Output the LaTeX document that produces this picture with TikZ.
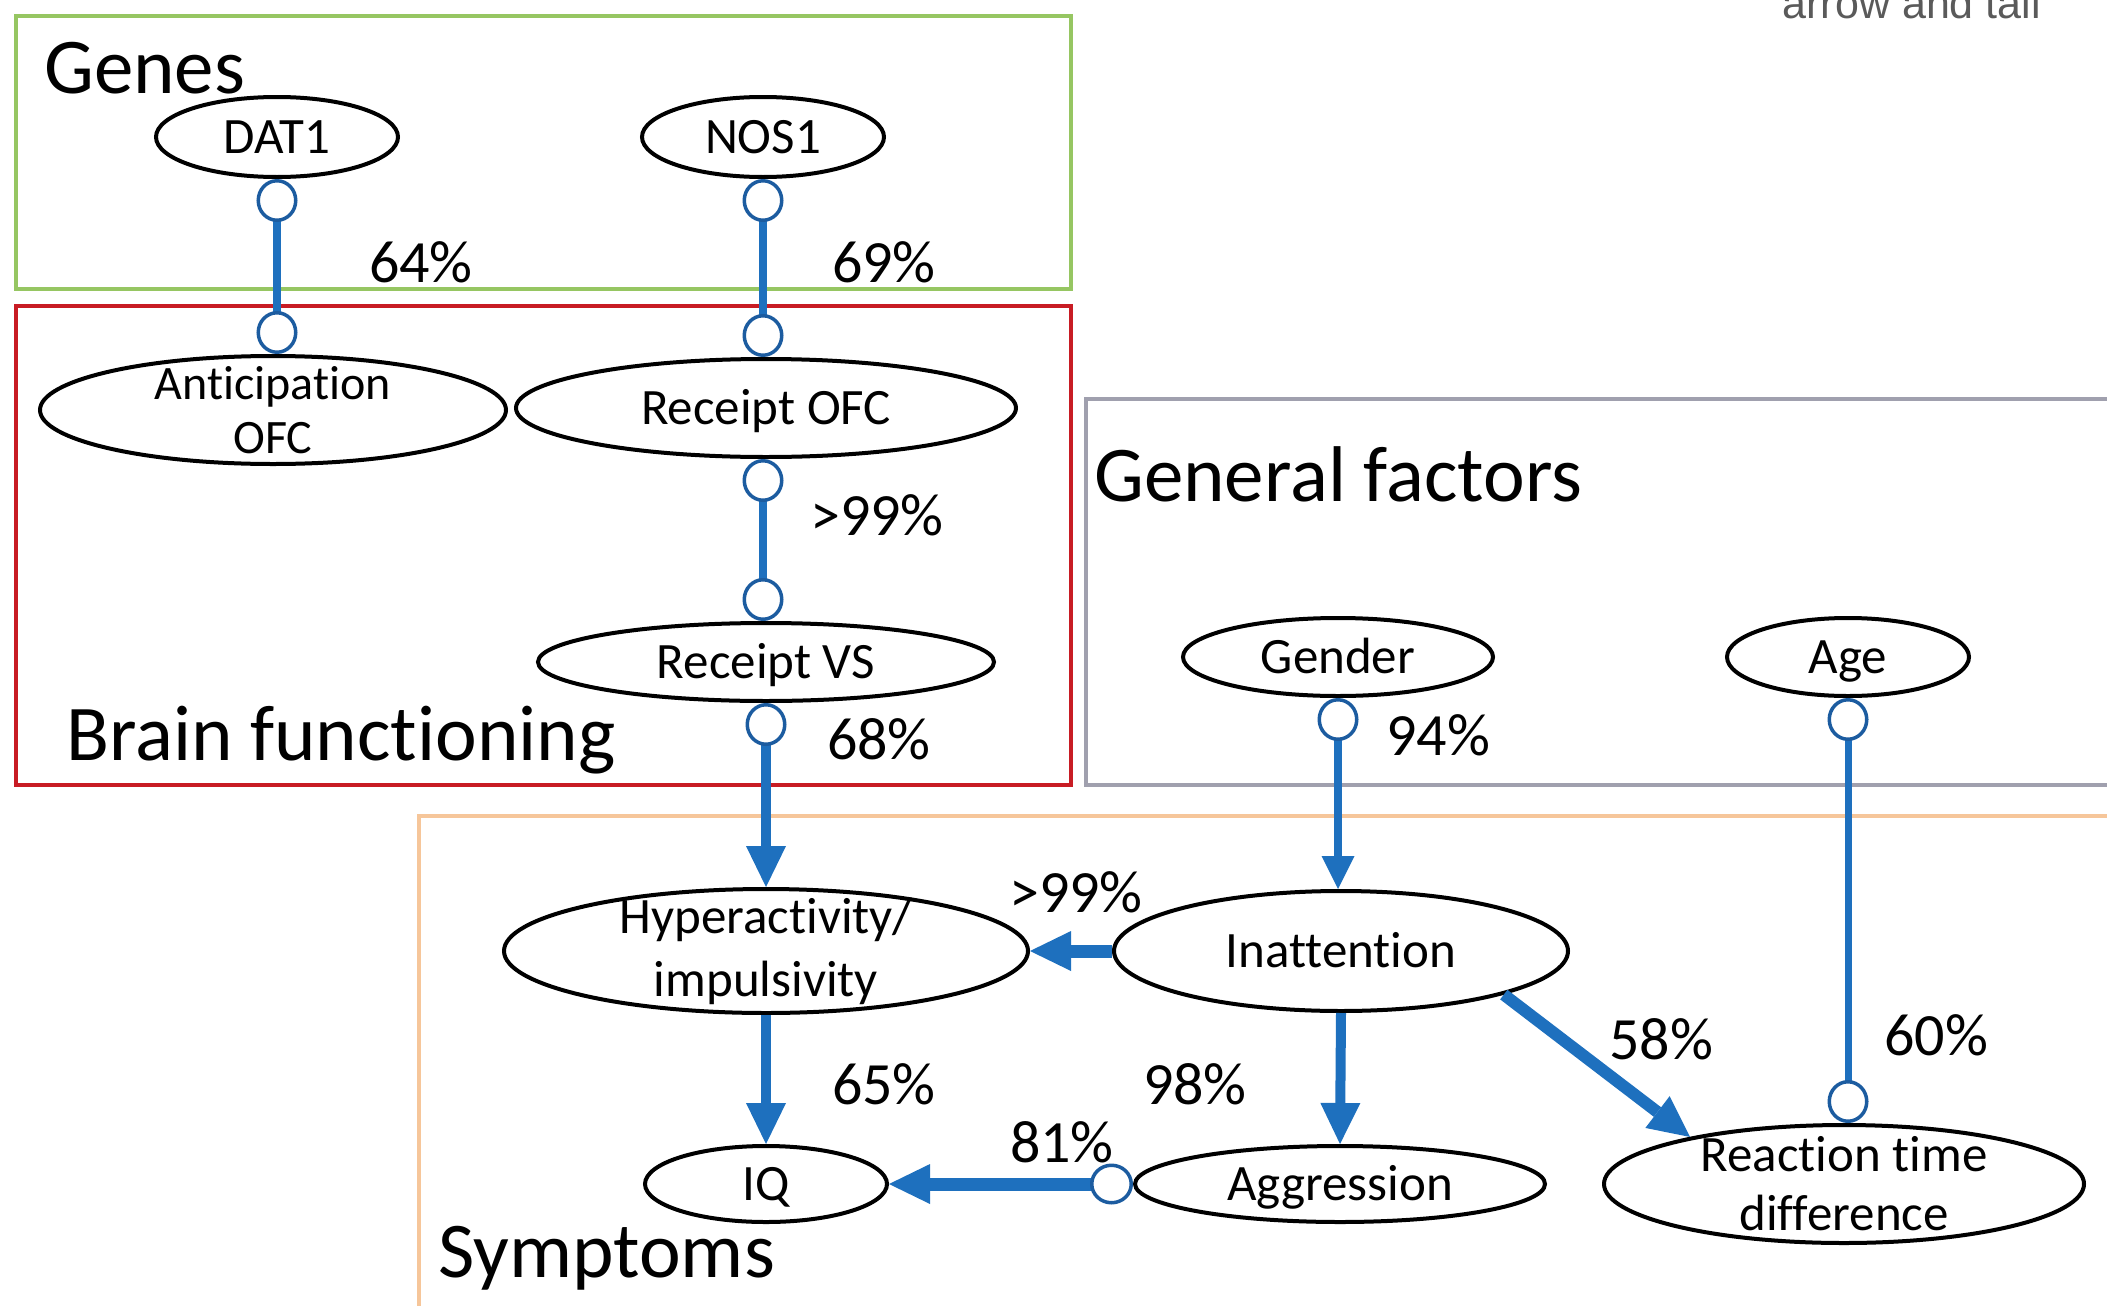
\documentclass[tikz,border=0pt]{standalone}
\usepackage{fontspec}
\setmainfont{Carlito}[Ligatures=NoCommon]
\newfontfamily\notefont{Liberation Sans}
\usetikzlibrary{arrows.meta,shapes.geometric}

\definecolor{linkblue}{RGB}{30,112,190}
\definecolor{ringblue}{RGB}{28,92,160}
\definecolor{genegreen}{RGB}{150,198,98}
\definecolor{brainred}{RGB}{200,28,36}
\definecolor{factorgray}{RGB}{160,160,174}
\definecolor{symporange}{RGB}{246,198,154}
\definecolor{notegray}{RGB}{90,90,90}

\tikzset{
  Ring/.tip={Circle[length=43pt,width=41pt,line width=3.5pt,fill=white,color=ringblue]},
  HeadS/.tip={Triangle[length=33pt,width=33pt,line width=0pt]},
  HeadL/.tip={Triangle[length=41pt,width=40pt,line width=0pt]},
  var/.style={ellipse, draw=black, line width=4pt, fill=white, inner sep=0pt},
  lab/.style={font=\fontsize{51}{59}\selectfont, inner sep=0pt, align=center},
  lab1/.style={lab, text height=33pt, text depth=0pt},
  pct/.style={font=\fontsize{60}{70}\selectfont, inner sep=0pt},
  grouptitle/.style={font=\fontsize{79}{90}\selectfont, inner sep=0pt, anchor=base west},
  groupbox/.style={line width=4pt},
  link/.style={draw=linkblue, line width=#1},
}

\begin{document}
\begin{tikzpicture}[x=1pt,y=-1pt]
\useasboundingbox (0,0) rectangle (2107,1306);
\clip (0,0) rectangle (2107,1306);

% group frames
\draw[groupbox, genegreen]  (16,16)   rectangle (1071,289);
\draw[groupbox, brainred]   (16,306)  rectangle (1071,785);
\draw[groupbox, factorgray] (1086,399) rectangle (2130,785);
\draw[groupbox, symporange] (419,816) rectangle (2130,1330);

% group titles
\node[grouptitle] (tgenes) at (44,93)    {Genes};
\node[grouptitle] (tbrain) at (66,760)   {Brain functioning};
\node[grouptitle] (tgen)   at (1094,501) {General factors};
\node[grouptitle] (tsym)   at (438,1277) {Symptoms};

% legend fragment in the corner
\node[font=\notefont\fontsize{43}{50}\selectfont, text=notegray, anchor=base east, inner sep=0pt]
  (note) at (2041,19) {arrow and tail};

% variables
\node[var, minimum width=242pt, minimum height=80pt, label={[lab1]center:DAT1}] (dat) at (277,137) {};
\node[var, minimum width=242pt, minimum height=80pt, label={[lab1]center:NOS1}] (nos) at (763,137) {};
\node[var, minimum width=466pt, minimum height=108pt,
      label={[lab,font=\fontsize{48}{54}\selectfont]center:{Anticipation\\OFC}}] (ant) at (273,410) {};
\node[var, minimum width=500pt, minimum height=98pt, label={[lab1]center:Receipt OFC}] (rofc) at (766,408) {};
\node[var, minimum width=456pt, minimum height=78pt, label={[lab1]center:Receipt VS}] (rvs) at (766,662) {};
\node[var, minimum width=310pt, minimum height=78pt, label={[lab1]center:Gender}] (gen) at (1338,657) {};
\node[var, minimum width=242pt, minimum height=78pt, label={[lab1]center:Age}] (age) at (1848,657) {};
\node[var, minimum width=524pt, minimum height=124pt,
      label={[lab,font=\fontsize{51}{63}\selectfont]center:{Hyperactivity/\\impulsivity}}] (hyp) at (766,951) {};
\node[var, minimum width=454pt, minimum height=120pt, label={[lab1]center:Inattention}] (ina) at (1341,951) {};
\node[var, minimum width=242pt, minimum height=76pt, label={[lab1]center:IQ}] (iq) at (766,1184) {};
\node[var, minimum width=410pt, minimum height=76pt, label={[lab1]center:Aggression}] (agg) at (1340,1184) {};
\node[var, minimum width=480pt, minimum height=118pt,
      label={[lab]center:{Reaction time\\difference}}] (rtd) at (1844,1184) {};

% links
\draw[link=8pt, Ring-Ring] (dat.south) -- (dat.south |- ant.north);
\draw[link=8pt, Ring-Ring] (nos.south) -- (nos.south |- rofc.north);
\draw[link=8pt, Ring-Ring] (nos.south |- rofc.south) -- (nos.south |- rvs.north);
\draw[link=10pt, Ring-HeadL] (rvs.south) -- (hyp.north);
\draw[link=8pt, Ring-HeadS] (gen.south) -- (gen.south |- ina.north);
\draw[link=7pt, Ring-Ring] (age.south) -- (age.south |- rtd.north);
\draw[link=13pt, -HeadL] (ina.west) -- (hyp.east);
\draw[link=10pt, -HeadL] (ina.south) -- (agg.north);
\draw[link=12pt, -HeadL] (ina.-15) -- (rtd.163);
\draw[link=10pt, -HeadL] (hyp.south) -- (iq.north);
\draw[link=13pt, Ring-HeadL] (agg.west) -- (iq.east);

% posterior probabilities
\node[pct] (p1)  at (421,262)  {64\%};
\node[pct] (p2)  at (884,262)  {69\%};
\node[pct] (p3)  at (877,515)  {>99\%};
\node[pct] (p4)  at (879,739)  {68\%};
\node[pct] (p5)  at (1438,735) {94\%};
\node[pct] (p6)  at (1076,892) {>99\%};
\node[pct] (p7)  at (884,1084) {65\%};
\node[pct] (p8)  at (1195,1084) {98\%};
\node[pct] (p9)  at (1062,1142) {81\%};
\node[pct] (p10) at (1661,1039) {58\%};
\node[pct] (p11) at (1936,1035) {60\%};
\end{tikzpicture}
\end{document}
